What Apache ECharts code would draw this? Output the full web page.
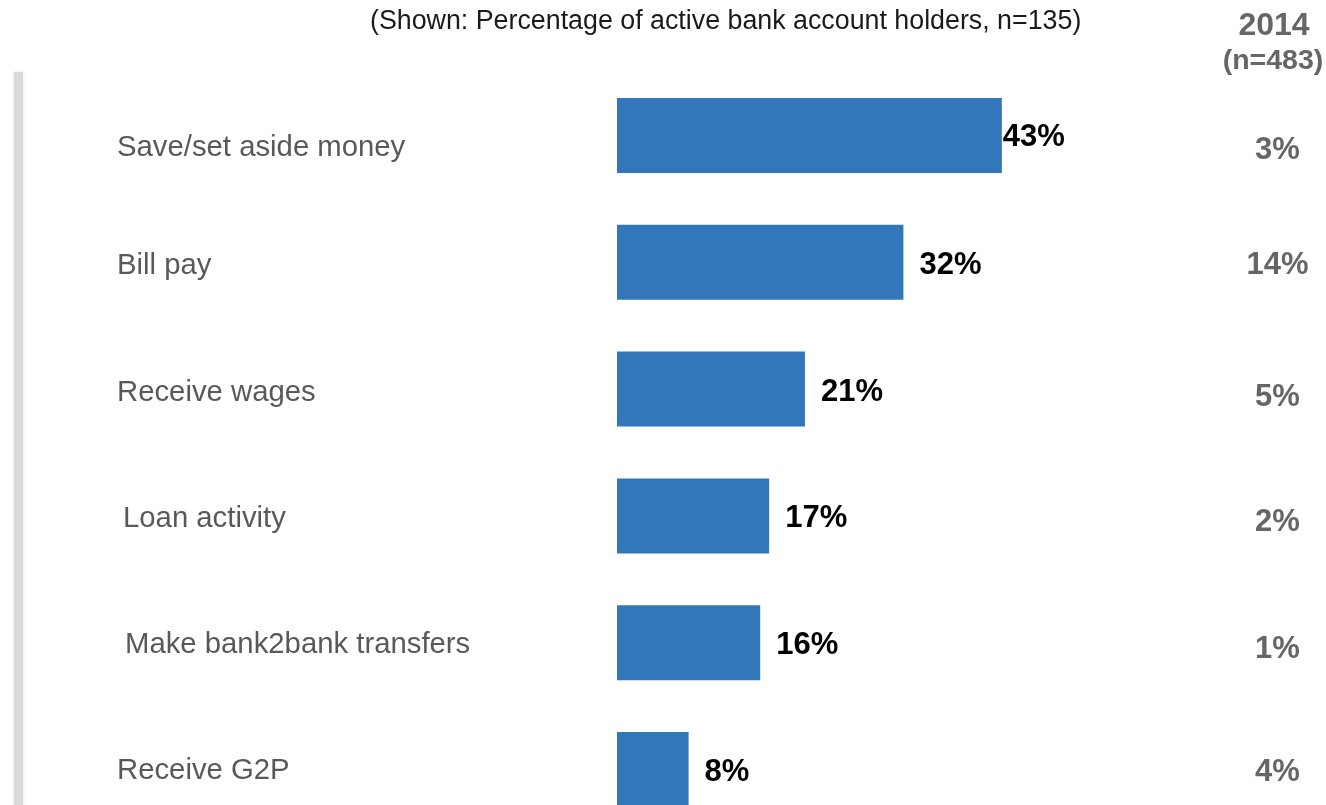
<!DOCTYPE html>
<html>
<head>
<meta charset="utf-8">
<script src="https://cdn.jsdelivr.net/npm/echarts@6/dist/echarts.min.js"></script>
<style>
  html, body { margin: 0; padding: 0; background: #fff; }
  #chart { width: 1326px; height: 805px; }
</style>
</head>
<body>
<div id="chart"></div>
<script>
// Uses of a bank account, top to bottom
const categories = [
  'Save/set aside money',
  'Bill pay',
  'Receive wages',
  'Loan activity',
  'Make bank2bank transfers',
  'Receive G2P'
];
// Current share of active bank account holders (%)
const currentValues = [43, 32, 21, 17, 16, 8];
// Share in 2014 (%)
const values2014 = [3, 14, 5, 2, 1, 4];

const subtitleText = '(Shown: Percentage of active bank account holders, n=135)';
const columnHeader = '2014';
const columnSubHeader = '(n=483)';

const FONT = '"Liberation Sans", Arial, sans-serif';
const GREY_TEXT = '#595959';
const GREY_BOLD = '#666666';
const BAR_BLUE = '#3277BA';

// Rich styles used to nudge individual axis labels
function leftStyle(padding) {
  return { padding: padding, fontSize: 29.3, color: GREY_TEXT, fontFamily: FONT };
}
function rightStyle(padding) {
  return { padding: padding, fontSize: 31, fontWeight: 'bold', color: GREY_BOLD, fontFamily: FONT };
}
const leftRich = {
  r0: leftStyle([24, 0, 0, 0]),
  r1: leftStyle([8, 0, 0, 0]),
  r2: leftStyle([8, 0, 0, 0]),
  r3: leftStyle([6, 0, 0, 6]),
  r4: leftStyle([4, 0, 0, 8]),
  r5: leftStyle([2, 0, 0, 0])
};
const rightRich = {
  r0: rightStyle([30, 0, 0, 0]),
  r1: rightStyle([6, 0, 0, 0]),
  r2: rightStyle([16, 0, 0, 0]),
  r3: rightStyle([14, 0, 0, 0]),
  r4: rightStyle([14, 0, 0, 0]),
  r5: rightStyle([6, 0, 0, 0])
};

const barData = currentValues.map((v, i) => (
  i === 0 ? { value: v, label: { distance: 1, offset: [0, 2] } } : { value: v }
));

const chart = echarts.init(document.getElementById('chart'), null, { renderer: 'canvas' });

chart.setOption({
  animation: false,
  backgroundColor: '#ffffff',
  textStyle: { fontFamily: FONT },
  graphic: [
    {
      type: 'rect',
      shape: { x: 14, y: 72, width: 9, height: 760 },
      style: { fill: '#d9d9d9', shadowBlur: 4, shadowColor: 'rgba(0,0,0,0.10)' },
      silent: true
    },
    {
      type: 'text',
      left: 370,
      top: 8,
      style: { text: subtitleText, font: '26.8px ' + FONT, fill: '#1a1a1a' }
    },
    {
      type: 'text',
      x: 1274,
      y: 26,
      style: { text: columnHeader, font: 'bold 32px ' + FONT, fill: GREY_BOLD, align: 'center', verticalAlign: 'middle' }
    },
    {
      type: 'text',
      x: 1273,
      y: 61,
      style: { text: columnSubHeader, font: 'bold 28.5px ' + FONT, fill: GREY_BOLD, align: 'center', verticalAlign: 'middle' }
    }
  ],
  grid: { left: 617, top: 72, width: 447.5, height: 761, outerBoundsMode: 'none', containLabel: false },
  xAxis: {
    type: 'value',
    min: 0,
    max: 50,
    show: false
  },
  yAxis: [
    {
      type: 'category',
      data: categories,
      inverse: true,
      position: 'left',
      axisLine: { show: false },
      axisTick: { show: false },
      splitLine: { show: false },
      axisLabel: {
        align: 'left',
        margin: 500,
        formatter: (v, i) => '{r' + i + '|' + v + '}',
        rich: leftRich
      }
    },
    {
      type: 'category',
      data: categories,
      inverse: true,
      position: 'right',
      axisLine: { show: false },
      axisTick: { show: false },
      splitLine: { show: false },
      axisLabel: {
        align: 'center',
        margin: 213,
        formatter: (v, i) => '{r' + i + '|' + values2014[i] + '%}',
        rich: rightRich
      }
    }
  ],
  series: [
    {
      type: 'bar',
      yAxisIndex: 0,
      data: barData,
      barWidth: 75,
      itemStyle: { color: BAR_BLUE },
      label: {
        show: true,
        position: 'right',
        distance: 16,
        offset: [0, 3],
        formatter: '{c}%',
        fontFamily: FONT,
        fontSize: 31,
        fontWeight: 'bold',
        color: '#000000'
      }
    }
  ]
});
</script>
</body>
</html>
